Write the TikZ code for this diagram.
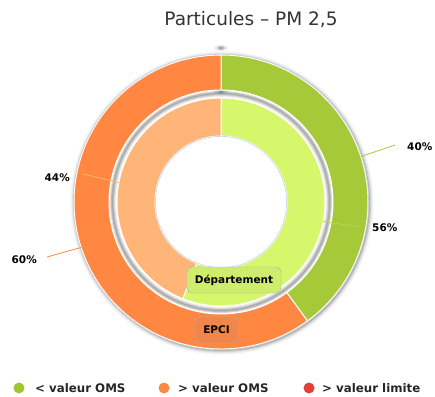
\documentclass[tikz,border=0pt]{standalone}
\usepackage{fontspec}
\setmainfont{DejaVu Sans}
\definecolor{ogreen}{RGB}{166,201,58}
\definecolor{oorange}{RGB}{255,135,66}
\definecolor{igreen}{RGB}{214,246,107}
\definecolor{iorange}{RGB}{255,181,120}
\definecolor{lgreen}{RGB}{160,196,50}
\definecolor{lorange}{RGB}{255,138,69}
\definecolor{lred}{RGB}{224,66,58}
\definecolor{titlegray}{RGB}{51,51,51}
\definecolor{edgeblue}{RGB}{200,210,225}
% annular sector: colour, inner radius, outer radius, start angle, end angle
\newcommand\ringsector[5]{%
  \fill[#1,draw=white,line width=1pt] (#4:#3) arc[start angle=#4,end angle=#5,radius=#3]
    -- (#5:#2) arc[start angle=#5,end angle=#4,radius=#2] -- cycle;}
\tikzset{
  pct/.style={font=\fontsize{10.5}{12}\selectfont\bfseries, text=black, inner sep=0pt},
  legtext/.style={font=\fontsize{11.8}{13}\selectfont\bfseries, text=black!85, anchor=west, inner sep=0pt},
  legdot/.style={circle, minimum size=11pt, inner sep=0pt},
  namebox/.style={draw=black!30, rounded corners=5pt, font=\fontsize{10.5}{12}\selectfont\bfseries,
    minimum height=26pt, inner xsep=4pt},
  leader/.style={line width=0.8pt}
}
\begin{document}
\begin{tikzpicture}[x=1pt,y=1pt]
\useasboundingbox (0,0) rectangle (435,396);

% title
\node[font=\fontsize{18.5}{20}\selectfont, text=titlegray] (title) at (251,376) {Particules – PM 2,5};

\begin{scope}[shift={(221,194)}]
  % soft drop shadow around the outer ring
  \foreach \r/\o in {152/.02,151/.035,150/.06,149/.09,148/.14}
    \fill[black,opacity=\o] (1,-1) circle[radius=\r];
  \fill[white] (0,0) circle[radius=147];
  % shadow band between the two rings (stacked discs, outside in)
  \foreach \r/\c in {111.5/white,111/black!14,110/black!26,109/black!34,108/black!26,107/black!15,106/black!7,105/white}
    \fill[\c] (0,0) circle[radius=\r];
  % dark spots at the top of each ring
  \foreach \yy in {154,111} {
    \fill[black,opacity=.08] (0,\yy) ellipse[x radius=7,y radius=3];
    \fill[black,opacity=.15] (0,\yy) ellipse[x radius=4,y radius=2];
    \fill[black,opacity=.2] (0,\yy) ellipse[x radius=2,y radius=1.2];
  }
  % outer ring (EPCI): 40% / 60%
  \ringsector{ogreen}{112}{147}{90}{-54}
  \ringsector{oorange}{112}{147}{-54}{-270}
  % inner ring (Departement): 56% / 44%
  \ringsector{igreen}{66}{104}{90}{-111.6}
  \ringsector{iorange}{66}{104}{-111.6}{-270}
  % thin edges
  \draw[edgeblue,line width=0.6pt] (0,0) circle[radius=65.6];
  \draw[edgeblue,line width=0.5pt] (0,0) circle[radius=147.8];

  % connector anchors on the slices
  \coordinate (s40) at (18:147);
  \coordinate (s60) at (198:147);
  \coordinate (s56) at (-10.8:104);
  \coordinate (s44) at (169.2:104);
\end{scope}

% data labels
\node[pct, anchor=west] (l40) at (407,249) {40\%};
\node[pct, anchor=west] (l56) at (372,168) {56\%};
\node[pct, anchor=east] (l44) at (70,218) {44\%};
\node[pct, anchor=east] (l60) at (37,136) {60\%};
\coordinate (e40) at (395,251);
\coordinate (e56) at (360,169);
\coordinate (e44) at (83,222);
\coordinate (e60) at (47,139);
\draw[leader, ogreen] (s40) -- (e40);
\draw[leader, igreen!85!black] (s56) -- (e56);
\draw[leader, iorange] (s44) -- (e44);
\draw[leader, oorange] (s60) -- (e60);

% series name boxes
\node[namebox, fill=igreen!92!gray, minimum width=94pt] (dep) at (234,116) {Département};
\node[namebox, fill=oorange!88!gray, minimum width=43pt] (epci) at (216.5,66) {EPCI};

% legend
\node[legdot, fill=lgreen] (d1) at (19,8) {};
\node[legtext] (t1) at (35,8) {< valeur OMS};
\node[legdot, fill=lorange] (d2) at (164,8) {};
\node[legtext] (t2) at (178,8) {> valeur OMS};
\node[legdot, fill=lred] (d3) at (309,8) {};
\node[legtext] (t3) at (322,8) {> valeur limite};
\end{tikzpicture}
\end{document}
